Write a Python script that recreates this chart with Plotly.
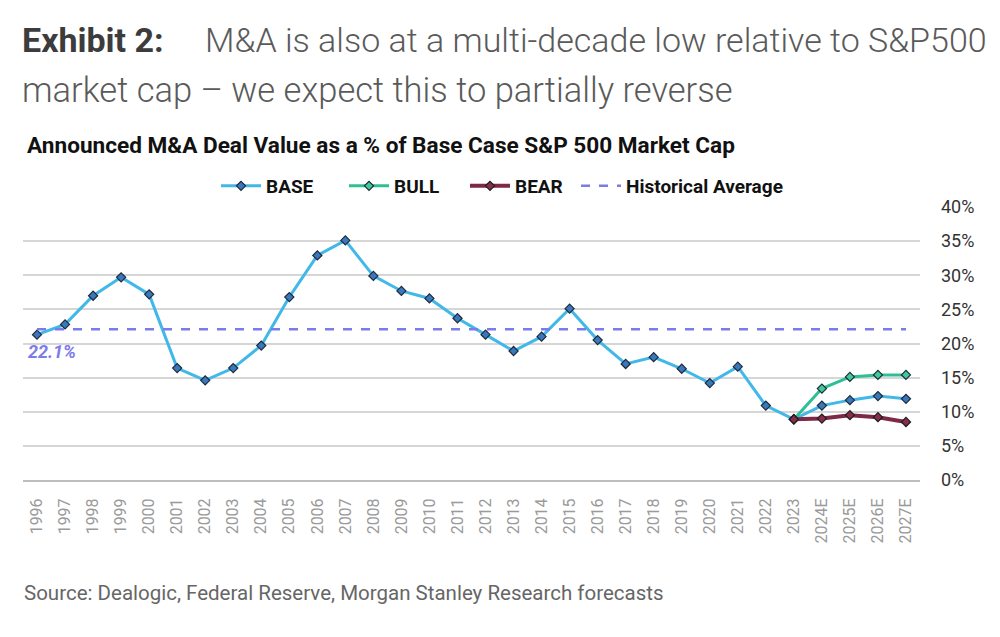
import plotly.graph_objects as go

years = ["1996", "1997", "1998", "1999", "2000", "2001", "2002", "2003", "2004", "2005",
         "2006", "2007", "2008", "2009", "2010", "2011", "2012", "2013", "2014", "2015",
         "2016", "2017", "2018", "2019", "2020", "2021", "2022", "2023",
         "2024E", "2025E", "2026E", "2027E"]
base = [21.3, 22.8, 27.0, 29.7, 27.2, 16.4, 14.6, 16.4, 19.7, 26.8,
        32.9, 35.1, 29.9, 27.7, 26.6, 23.7, 21.3, 18.9, 21.0, 25.1,
        20.5, 17.0, 18.0, 16.3, 14.2, 16.6, 10.9, 8.9,
        10.9, 11.7, 12.3, 11.9]
bull = [None] * 27 + [8.9, 13.4, 15.1, 15.4, 15.4]
bear = [None] * 27 + [8.9, 9.0, 9.5, 9.2, 8.5]
hist_avg = 22.1

FONT = "Roboto"


def px_x(px):
    return (px - 23) / (920 - 23)


def px_y(py):
    return (480 - py) / (480 - 207)


fig = go.Figure()
fig.add_trace(go.Scatter(
    x=years, y=base, name="BASE", mode="lines+markers", legend="legend",
    line=dict(color="#41B8E8", width=3),
    marker=dict(symbol="diamond", size=7, color="#3A78BE", line=dict(color="#1E2A3A", width=1.2)),
))
fig.add_trace(go.Scatter(
    x=years, y=bull, name="BULL", mode="lines+markers", legend="legend2",
    line=dict(color="#2EBF92", width=3),
    marker=dict(symbol="diamond", size=7, color="#3CCB9A", line=dict(color="#1E2A3A", width=1.2)),
))
fig.add_trace(go.Scatter(
    x=years, y=bear, name="BEAR", mode="lines+markers", legend="legend3",
    line=dict(color="#7E2A47", width=4),
    marker=dict(symbol="diamond", size=7, color="#8A2D4A", line=dict(color="#1E1E1E", width=1.2)),
))
fig.add_trace(go.Scatter(
    x=years, y=[hist_avg] * len(years), name="Historical Average", mode="lines", legend="legend4",
    line=dict(color="#7B7BEA", width=2.5, dash="dash"),
))

fig.add_annotation(
    x=0, y=hist_avg, xref="x", yref="y", text="<i><b>22.1%</b></i>",
    showarrow=False, xanchor="left", yanchor="top", xshift=-11, yshift=-10,
    font=dict(family=FONT, size=18, color="#7B7BEA"),
)


def legend_at(px):
    return dict(
        orientation="h", x=px_x(px), xanchor="left", y=px_y(186), yanchor="middle",
        font=dict(family=FONT, size=19, color="#111111", weight="bold"),
        itemwidth=40, bgcolor="rgba(0,0,0,0)", borderwidth=0,
    )


fig.update_layout(
    width=1000, height=637,
    margin=dict(l=23, r=80, t=207, b=157),
    paper_bgcolor="white", plot_bgcolor="white",
    showlegend=True,
    legend=legend_at(216),
    legend2=legend_at(344),
    legend3=legend_at(465),
    legend4=legend_at(576),
    xaxis=dict(
        type="category", range=[-0.5, 31.5], tickangle=-90,
        tickfont=dict(family=FONT, size=16, color="#9A9A9A"),
        showgrid=False, showline=True, linecolor="#BDBDBD", linewidth=2,
        ticks="", ticklabelstandoff=10,
    ),
    yaxis=dict(
        side="right", range=[0, 40], dtick=5, ticksuffix="%",
        tickfont=dict(family=FONT, size=18, color="#333333"),
        showgrid=True, gridcolor="#D6D6D6", gridwidth=1.5,
        zeroline=False, showline=False, ticks="", ticklabelstandoff=20,
    ),
)


def add_fig_text(px, py, text, size, color, weight=None):
    f = dict(family=FONT, size=size, color=color)
    if weight:
        f["weight"] = weight
    fig.add_annotation(
        x=px_x(px), y=px_y(py), xref="paper", yref="paper", text=text, showarrow=False,
        xanchor="left", yanchor="middle", font=f, align="left",
    )


add_fig_text(20, 40, "<b>Exhibit 2:</b>     <span style='color:#5A5A5A'>M&A is also at a multi-decade low relative to S&P500</span>",
             34, "#3C3C3C", weight=300)
add_fig_text(20, 90, "market cap – we expect this to partially reverse", 34.5, "#5A5A5A", weight=300)
add_fig_text(25, 146, "<b>Announced M&A Deal Value as a % of Base Case S&P 500 Market Cap</b>", 22.6, "#111111")
add_fig_text(22, 593, "Source: Dealogic, Federal Reserve, Morgan Stanley Research forecasts", 20.5, "#666666")

fig.write_html("out.html")
